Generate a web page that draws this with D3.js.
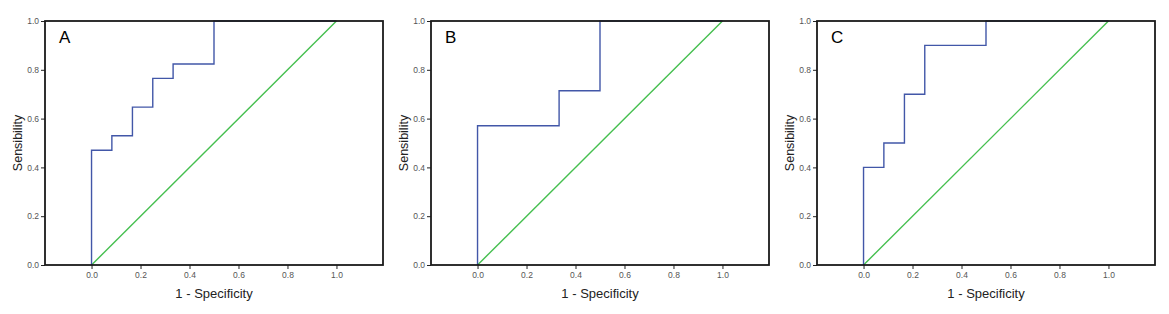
<!DOCTYPE html>
<html>
<head>
<meta charset="utf-8">
<script src="https://cdn.jsdelivr.net/npm/d3@7"></script>
<style>
  body { margin: 0; background: #fff; }
  svg { display: block; }
  .tick text { fill: #555; font-family: "Liberation Sans", Arial, sans-serif; font-size: 8.5px; }
  .axis path, .axis line { stroke: #222; }
</style>
</head>
<body>
<div id="chart"></div>
<script>
// ROC curves: [1 - specificity, sensitivity]
var panelLabels = ["A", "B", "C"];
var rocA = [[0, 0], [0, 0.47], [0.083, 0.47], [0.083, 0.53], [0.167, 0.53], [0.167, 0.647],
            [0.25, 0.647], [0.25, 0.765], [0.333, 0.765], [0.333, 0.824], [0.5, 0.824], [0.5, 1], [1, 1]];
var rocB = [[0, 0], [0, 0.571], [0.333, 0.571], [0.333, 0.714], [0.5, 0.714], [0.5, 1], [1, 1]];
var rocC = [[0, 0], [0, 0.4], [0.083, 0.4], [0.083, 0.5], [0.167, 0.5], [0.167, 0.7],
            [0.25, 0.7], [0.25, 0.9], [0.5, 0.9], [0.5, 1], [1, 1]];
var reference = [[0, 0], [1, 1]];
var xTicks = [0, 0.2, 0.4, 0.6, 0.8, 1.0];
var yTicks = [0, 0.2, 0.4, 0.6, 0.8, 1.0];
var xTitle = "1 - Specificity";
var yTitle = "Sensibility";

var curves = [rocA, rocB, rocC];
// left edge of each panel frame, and the y title position
var panelLeft = [45, 431, 817];
var yTitleX = [18, 404, 790];

var svg = d3.select("#chart").append("svg")
    .attr("width", 1169)
    .attr("height", 314);

var width = 338, height = 244, marginTop = 21;

curves.forEach(function(data, i) {
    var g = svg.append("g")
        .attr("transform", "translate(" + panelLeft[i] + "," + marginTop + ")");

    var xScale = d3.scaleLinear().domain([-0.19, 1.19]).range([0, width]);
    var yScale = d3.scaleLinear().domain([0, 1]).range([height, 0]);

    var xAxis = d3.axisBottom(xScale)
        .tickValues(xTicks)
        .tickSizeInner(4)
        .tickSizeOuter(0)
        .tickPadding(3)
        .tickFormat(d3.format(".1f"));

    var yAxis = d3.axisLeft(yScale)
        .tickValues(yTicks)
        .tickSizeInner(4)
        .tickSizeOuter(0)
        .tickPadding(2)
        .tickFormat(d3.format(".1f"));

    g.append("g")
        .attr("class", "axis")
        .attr("transform", "translate(0," + height + ")")
        .call(xAxis)
        .select(".domain").remove();

    g.append("g")
        .attr("class", "axis")
        .call(yAxis)
        .select(".domain").remove();

    var line = d3.line()
        .x(function(d) { return xScale(d[0]); })
        .y(function(d) { return yScale(d[1]); });

    // diagonal reference line
    g.append("path")
        .datum(reference)
        .attr("d", line)
        .attr("fill", "none")
        .attr("stroke", "#45bf4f")
        .attr("stroke-width", 1.4);

    g.append("path")
        .datum(data)
        .attr("d", line)
        .attr("fill", "none")
        .attr("stroke", "#4257a8")
        .attr("stroke-width", 1.4);

    // frame
    g.append("rect")
        .attr("width", width)
        .attr("height", height)
        .attr("fill", "none")
        .attr("stroke", "#1a1a1a")
        .attr("stroke-width", 1.8);

    g.append("text")
        .attr("x", 14)
        .attr("y", 22)
        .style("font-family", "Liberation Sans, Arial, sans-serif")
        .style("font-size", "17px")
        .text(panelLabels[i]);

    g.append("text")
        .attr("x", width / 2)
        .attr("y", height + 33)
        .attr("text-anchor", "middle")
        .style("font-family", "Liberation Sans, Arial, sans-serif")
        .style("font-size", "13px")
        .style("fill", "#222")
        .text(xTitle);

    svg.append("text")
        .attr("transform", "translate(" + yTitleX[i] + "," + (marginTop + height / 2) + ") rotate(-90)")
        .attr("text-anchor", "middle")
        .attr("dy", "0.35em")
        .style("font-family", "Liberation Sans, Arial, sans-serif")
        .style("font-size", "12.5px")
        .style("fill", "#222")
        .text(yTitle);
});
</script>
</body>
</html>
